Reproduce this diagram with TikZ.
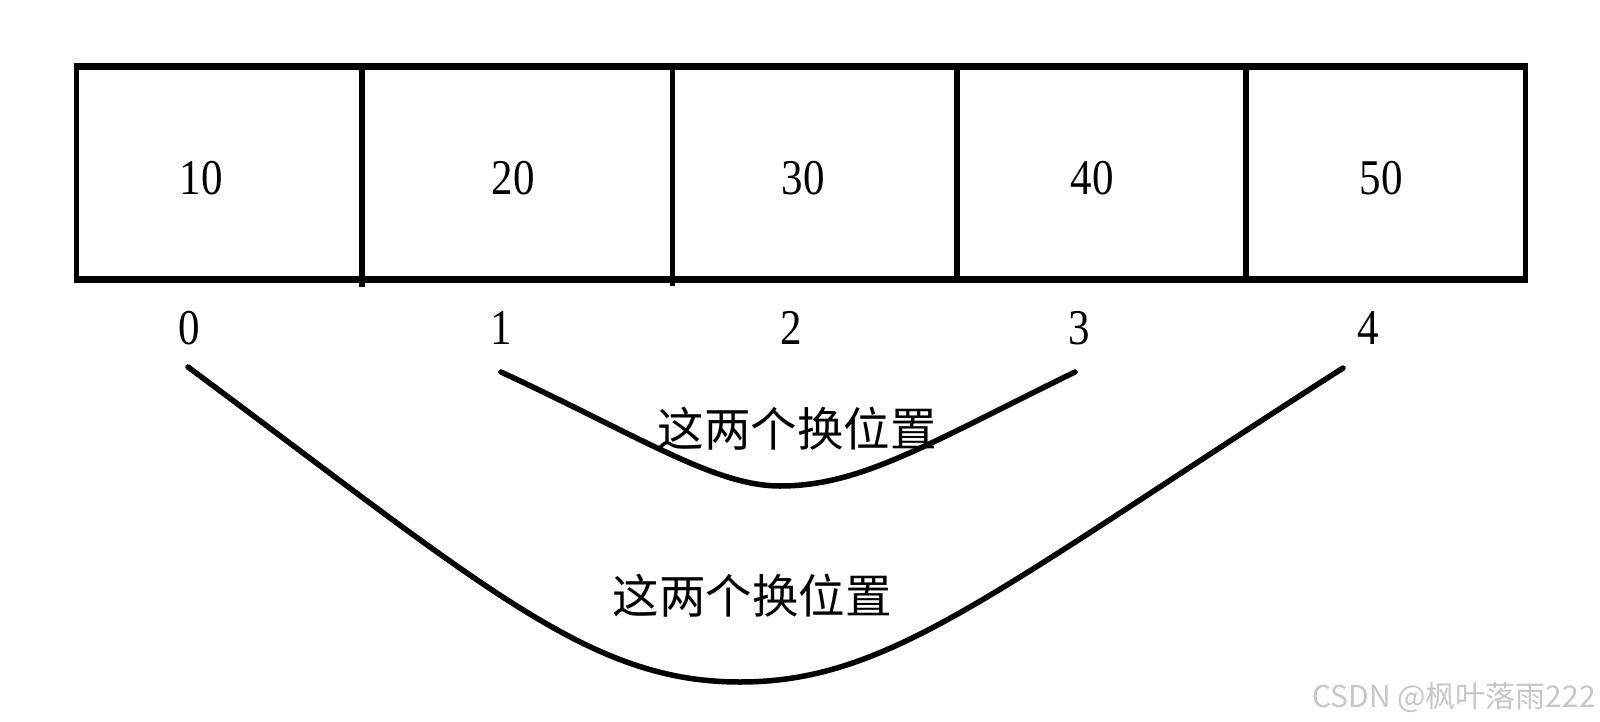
\documentclass[tikz,border=0pt]{standalone}
\usepackage{fontspec}
\setmainfont{Liberation Serif}
\newfontfamily\numfont[FakeStretch=0.86]{Liberation Serif}
\newfontfamily\cjk{Noto Sans CJK SC}
\begin{document}
\begin{tikzpicture}[x=1pt,y=-1pt,
  num/.style={inner sep=0pt,font=\numfont\fontsize{50}{50}\selectfont},
  cjklabel/.style={inner sep=0pt,font=\cjk\fontsize{46.5}{46.5}\selectfont},
  hline/.style={line width=7pt},
  vline/.style={line width=5.5pt},
  swapcurve/.style={line width=5.5pt,line cap=round,line join=round},
  wmark/.style={inner sep=0pt,text=black!22,font=\cjk\fontsize{30}{30}\selectfont}]
\useasboundingbox[fill=white] (0,0) rectangle (1600,722);
% box outline
\draw[hline] (74,67) -- (1528,67);
\draw[hline] (74,279) -- (1528,279);
\draw[vline] (76.5,64) -- (76.5,282);
\draw[vline] (1525.5,64) -- (1525.5,282);
\draw[vline] (362,64) -- (362,287);
\draw[vline] (672.5,64) -- (672.5,286);
\draw[vline] (957,64) -- (957,282);
\draw[vline] (1246,64) -- (1246,282);
% values
\node[num] (v0) at (201,178) {10};
\node[num] (v1) at (513,178) {20};
\node[num] (v2) at (803,178) {30};
\node[num] (v3) at (1092,178) {40};
\node[num] (v4) at (1381,178) {50};
% indices
\node[num] (i0) at (189,328) {0};
\node[num] (i1) at (501,328) {1};
\node[num] (i2) at (791,328) {2};
\node[num] (i3) at (1079,328) {3};
\node[num] (i4) at (1368,328) {4};
% swap curves
\coordinate (s1) at (501,372);
\coordinate (s3) at (1075,372);
\coordinate (sb) at (780,486);
\coordinate (b0) at (188,367);
\coordinate (b4) at (1343,368);
\coordinate (bb) at (740,682);
\draw[swapcurve] (s1) .. controls (641,437) and (715,486) .. (sb)
  .. controls (860,486) and (925,445.5) .. (s3);
\draw[swapcurve] (b0) .. controls (488,590) and (590,682) .. (bb)
  .. controls (890,682) and (993,592) .. (b4);
\node[cjklabel] (t1) at (797,429) {这两个换位置};
\node[cjklabel] (t2) at (752,596) {这两个换位置};
% watermark
\node[wmark,anchor=east] (wm) at (1596,697) {CSDN @枫叶落雨222};
\end{tikzpicture}
\end{document}
